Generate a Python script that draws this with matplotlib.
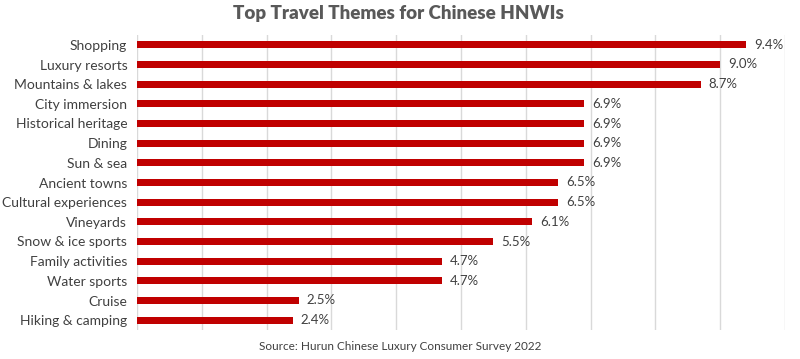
import matplotlib
matplotlib.use("Agg")
import matplotlib.pyplot as plt

categories = ["Shopping", "Luxury resorts", "Mountains & lakes", "City immersion",
              "Historical heritage", "Dining", "Sun & sea", "Ancient towns",
              "Cultural experiences", "Vineyards", "Snow & ice sports",
              "Family activities", "Water sports", "Cruise", "Hiking & camping"]
values = [9.4, 9.0, 8.7, 6.9, 6.9, 6.9, 6.9, 6.5, 6.5, 6.1, 5.5, 4.7, 4.7, 2.5, 2.4]
title = "Top Travel Themes for Chinese HNWIs"
source = "Source: Hurun Chinese Luxury Consumer Survey 2022"

plt.rcParams['font.family'] = ['Lato', 'DejaVu Sans']

fig = plt.figure(figsize=(8, 3.59), dpi=100)
W, H = 800, 359
ax = fig.add_axes([137 / W, 1 - 330 / H, (785 - 137) / W, (330 - 35) / H])

y = list(range(len(categories)))
ax.barh(y, values, height=0.36, color="#C00000", zorder=3)
for yi, v in zip(y, values):
    ax.text(v + 0.12, yi, f"{v:.1f}%", va="center", ha="left", fontsize=9.5, color="#404040")

ax.set_xlim(0, 10)
ax.set_ylim(len(categories) - 0.5, -0.5)
ax.set_yticks(y)
ax.set_yticklabels(categories, fontsize=10, color="#404040")
ax.set_xticks(range(0, 11))
ax.set_xticklabels([])
ax.tick_params(axis="both", length=0)
ax.tick_params(axis="y", pad=7)
ax.grid(axis="x", color="#D9D9D9", linewidth=1, zorder=0)
for s in ax.spines.values():
    s.set_visible(False)

fig.text(398 / W, 1 - 14 / H, title, ha="center", va="center", fontsize=13.5,
         fontweight="heavy", color="#595959")
fig.text(400 / W, 1 - 347 / H, source, ha="center", va="center", fontsize=8.5,
         color="#404040")

fig.savefig("out.png", dpi=100)
